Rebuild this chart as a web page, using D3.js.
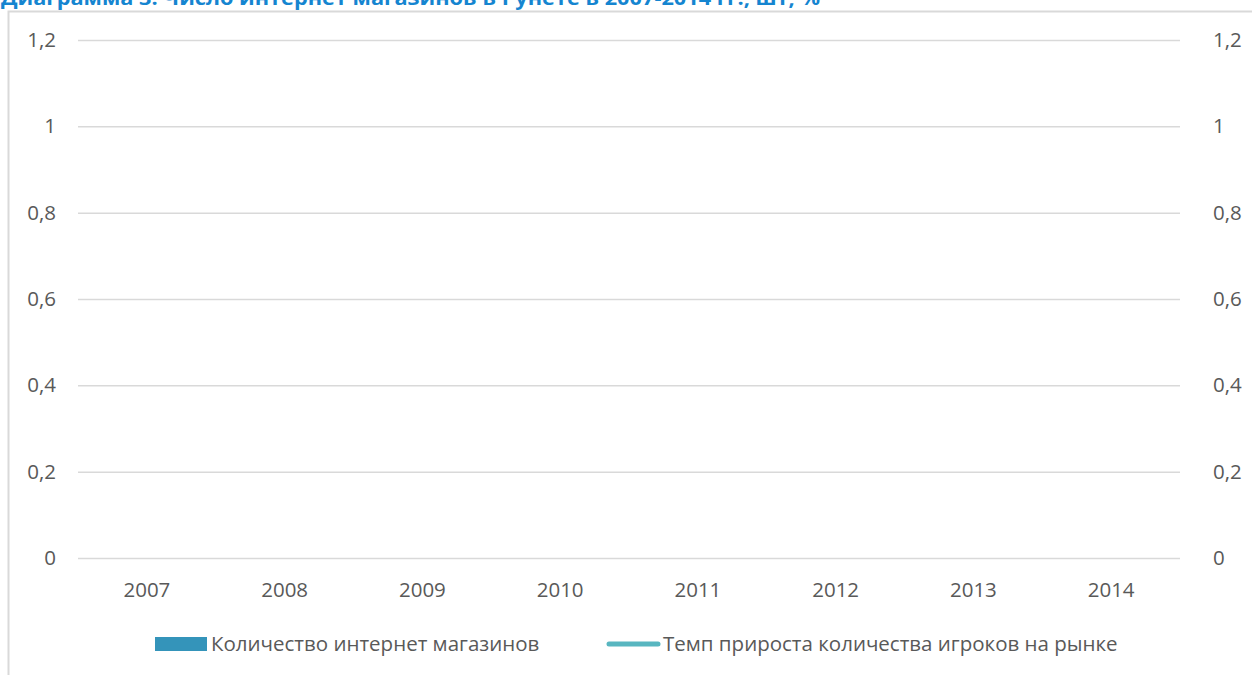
<!DOCTYPE html>
<html><head><meta charset="utf-8">
<script src="https://cdn.jsdelivr.net/npm/d3@7"></script>
<style>body{margin:0;background:#fff;}svg{display:block;}</style>
</head><body>
<svg id="c" width="1252" height="675"></svg>
<script>
const title = "Диаграмма 3. Число интернет магазинов в Рунете в 2007-2014 гг., шт, %";
const years = ["2007","2008","2009","2010","2011","2012","2013","2014"];
const storesCount = [null,null,null,null,null,null,null,null];
const growthRate = [null,null,null,null,null,null,null,null];
const leftTicks = [0,0.2,0.4,0.6,0.8,1,1.2];
const rightTicks = [0,0.2,0.4,0.6,0.8,1,1.2];
const seriesNames = ["Количество интернет магазинов","Темп прироста количества игроков на рынке"];

const svg = d3.select("#c");
const font = "'Open Sans', sans-serif";
const txt = "#595959";
const fs = 20.5;
const fmt = v => String(v).replace(".", ",");

// chart area border
svg.append("rect").attr("x",8.5).attr("y",11.5).attr("width",1300).attr("height",700)
  .attr("fill","#fff").attr("stroke","#d9d9d9").attr("stroke-width",2);

// title
svg.append("text").attr("x",1).attr("y",5).text(title)
  .attr("font-family",font).attr("font-weight","bold").attr("font-size",20)
  .attr("fill","#1585d0").attr("textLength",819).attr("lengthAdjust","spacingAndGlyphs");

const x0 = 78, x1 = 1180;
const x = d3.scaleBand().domain(years).range([x0,x1]).padding(0.35);
const y = d3.scaleLinear().domain([0,1.2]).range([558,40]);
const y2 = d3.scaleLinear().domain([0,1.2]).range([558,40]);

// gridlines + left labels
const gl = svg.append("g").attr("transform",`translate(${x0},0)`)
  .call(d3.axisLeft(y).tickValues(leftTicks).tickFormat(fmt).tickSize(-(x1-x0)).tickPadding(22));
gl.select(".domain").remove();
gl.selectAll("line").attr("stroke","#d9d9d9").attr("stroke-width",1.5);
gl.selectAll("text").attr("font-family",font).attr("font-size",fs).attr("fill",txt);

// right labels
const gr = svg.append("g").attr("transform",`translate(${x1},0)`)
  .call(d3.axisRight(y2).tickValues(rightTicks).tickFormat(fmt).tickSize(0).tickPadding(33));
gr.select(".domain").remove();
gr.selectAll("text").attr("font-family",font).attr("font-size",fs).attr("fill",txt);

// x labels
const gx = svg.append("g").attr("transform","translate(0,558)")
  .call(d3.axisBottom(d3.scaleBand().domain(years).range([x0,x1])).tickSize(0).tickPadding(24));
gx.select(".domain").remove();
gx.selectAll("text").attr("font-family",font).attr("font-size",fs).attr("fill",txt);

// bars (no data)
svg.append("g").selectAll("rect").data(years.map((d,i)=>({d,v:storesCount[i]})).filter(o=>o.v!=null))
  .join("rect").attr("x",o=>x(o.d)).attr("width",x.bandwidth())
  .attr("y",o=>y(o.v)).attr("height",o=>558-y(o.v)).attr("fill","#3494ba");
// line (no data)
const lineData = years.map((d,i)=>({d,v:growthRate[i]})).filter(o=>o.v!=null);
if (lineData.length) svg.append("path").datum(lineData)
  .attr("d",d3.line().x(o=>x(o.d)+x.bandwidth()/2).y(o=>y2(o.v)))
  .attr("fill","none").attr("stroke","#58b6c0").attr("stroke-width",4.5);

// legend
const lg = svg.append("g");
lg.append("rect").attr("x",155).attr("y",637).attr("width",52).attr("height",14).attr("fill","#3494ba");
lg.append("text").attr("x",211).attr("y",651).text(seriesNames[0])
  .attr("font-family",font).attr("font-size",fs).attr("fill",txt);
lg.append("line").attr("x1",609).attr("x2",658).attr("y1",644).attr("y2",644)
  .attr("stroke","#58b6c0").attr("stroke-width",5).attr("stroke-linecap","round");
lg.append("text").attr("x",663).attr("y",651).text(seriesNames[1])
  .attr("font-family",font).attr("font-size",fs).attr("fill",txt);
</script>
</body></html>
